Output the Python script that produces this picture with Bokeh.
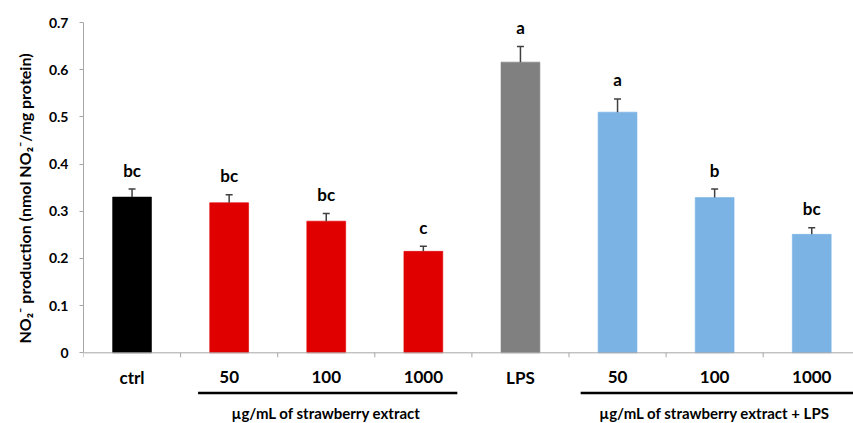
from bokeh.plotting import figure
from bokeh.models import Range1d, FixedTicker, ColumnDataSource, Title
from bokeh.core.properties import value
from bokeh.embed import file_html
from bokeh.resources import INLINE

# ---- data ----
categories = ["ctrl", "50", "100", "1000", "LPS", "50", "100", "1000"]
means = [0.330, 0.318, 0.279, 0.215, 0.616, 0.510, 0.329, 0.251]
errors = [0.017, 0.017, 0.016, 0.011, 0.033, 0.028, 0.018, 0.014]
letters = ["bc", "bc", "bc", "c", "a", "a", "b", "bc"]
bar_colors = ["#000000", "#e00000", "#e00000", "#e00000",
              "#808080", "#7ab3e4", "#7ab3e4", "#7ab3e4"]
group_labels = ["µg/mL of strawberry extract", "µg/mL of strawberry extract + LPS"]
group_members = [[1, 2, 3], [5, 6, 7]]
y_ticks = [0, 0.1, 0.2, 0.3, 0.4, 0.5, 0.6, 0.7]
y_title = "NO₂⁻ production (nmol NO₂⁻/mg protein)"

FONT = "Lato"
n = len(categories)
xc = [i + 0.5 for i in range(n)]
X_END = 7.93

p = figure(width=853, height=423, output_backend="svg", toolbar_location=None,
           x_range=Range1d(0, X_END), y_range=Range1d(-0.1498, 0.7),
           min_border_left=81, min_border_right=0, min_border_top=22,
           min_border_bottom=0, background_fill_color="white",
           border_fill_color="white", outline_line_color=None)
p.xaxis.visible = False
p.xgrid.visible = False
p.ygrid.visible = False

ya = p.yaxis[0]
ya.ticker = FixedTicker(ticks=y_ticks)
ya.bounds = (0, 0.7)
ya.axis_line_color = "#a6a6a6"
ya.major_tick_line_color = "#a6a6a6"
ya.major_tick_in = 0
ya.major_tick_out = 4
ya.minor_tick_line_color = None
ya.major_label_standoff = 11
ya.major_label_text_font = FONT
ya.major_label_text_font_style = "bold"
ya.major_label_text_font_size = "14px"
ya.major_label_text_color = "black"
ya.major_label_overrides = {0: "0"}

# y-axis title, aligned to the plotting area (0..0.7) as in the original
p.add_layout(Title(text=y_title, align="left", offset=80, standoff=24,
                   text_font=FONT, text_font_style="bold",
                   text_font_size="16px", text_color="black"), "left")

src = ColumnDataSource(dict(
    x=xc, top=means, err_top=[m + e for m, e in zip(means, errors)],
    color=bar_colors, letter=letters, cat=categories,
))

# bars
p.vbar(x="x", top="top", bottom=0, width=0.4, fill_color="color",
       line_color="color", line_alpha=0.6, source=src)

# error bars (upper only)
p.segment(x0="x", y0="top", x1="x", y1="err_top", line_color="#404040",
          line_width=1.5, source=src)
p.rect(x="x", y="err_top", width=7, height=1.5, width_units="screen",
       height_units="screen", fill_color="#404040", line_color=None, source=src)

# significance letters
p.text(x="x", y="err_top", text="letter", text_align="center",
       text_baseline="alphabetic", y_offset=-19, text_font=value(FONT),
       text_font_style="bold", text_font_size="17px", text_color="black",
       source=src)

# x axis line at zero and category boundary ticks
p.segment(x0=[0], y0=[0], x1=[X_END], y1=[0], line_color="#a6a6a6", line_width=1)
bounds_x = list(range(n + 1))
p.segment(x0=bounds_x, y0=[0] * len(bounds_x), x1=bounds_x,
          y1=[-0.0095] * len(bounds_x), line_color="#a6a6a6", line_width=1)

# category labels
p.text(x="x", y=-0.0523, text="cat", text_align="center", text_baseline="middle",
       text_font=value(FONT), text_font_style="bold", text_font_size="17px",
       text_color="black", source=src)

# group underline + group labels
gx0 = [1.18, 5.12]
gx1 = [3.85, X_END]
p.segment(x0=gx0, y0=[-0.0852] * 2, x1=gx1, y1=[-0.0852] * 2,
          line_color="black", line_width=2.5)
gcx = [(min(g) + max(g) + 1) / 2 for g in group_members]
p.text(x=gcx, y=[-0.1285] * 2, text=group_labels, text_align="center",
       text_baseline="middle", text_font=value(FONT), text_font_style="bold",
       text_font_size="15px", text_color="black")

open("out.html", "w").write(file_html(p, INLINE))
